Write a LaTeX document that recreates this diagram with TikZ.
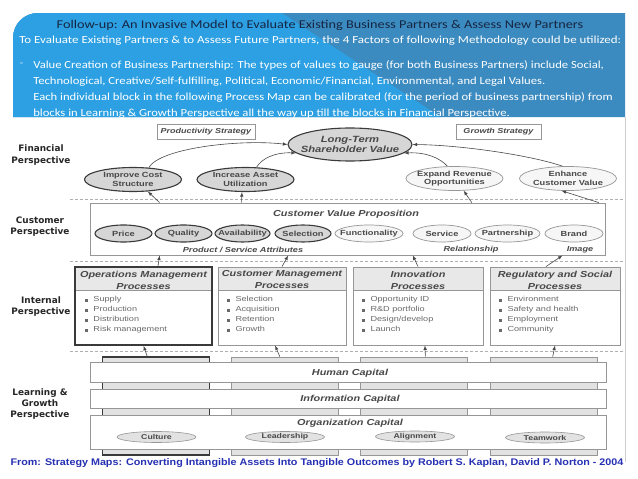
\documentclass[tikz,border=0pt]{standalone}
\usepackage{fontspec}
\setmainfont{Carlito}
\newfontfamily\bannerfont[FakeStretch=1.2]{Carlito}
\newfontfamily\parafont[FakeStretch=1.17]{Carlito}
\newfontfamily\mapfont[FakeStretch=1.25]{Liberation Sans}
\newfontfamily\perfont{DejaVu Sans}
\newfontfamily\srcfont[FakeStretch=1.12]{Liberation Sans}
\usetikzlibrary{shapes.geometric}
\definecolor{bannerlight}{RGB}{44,160,226}
\definecolor{bannerdark}{RGB}{60,139,192}
\definecolor{titleink}{RGB}{22,38,66}
\definecolor{mapink}{RGB}{72,72,72}
\definecolor{itemink}{RGB}{105,105,105}
\definecolor{ovalgray}{RGB}{214,214,214}
\definecolor{ovalpale}{RGB}{246,246,246}
\definecolor{headgray}{RGB}{232,232,232}
\definecolor{stripgray}{RGB}{226,226,226}
\definecolor{edgegray}{RGB}{150,150,150}
\definecolor{sepgray}{RGB}{175,175,175}
\definecolor{srcblue}{RGB}{38,48,178}
\newcommand{\sqbul}{\rule{2.2pt}{2.2pt}\hspace{6pt}}
\begin{document}
\begin{tikzpicture}[x = 1pt, y = -1pt, line width = 0.6pt,
    every node/.style = {inner sep = 0pt},
    strongoval/.style = {ellipse, draw = mapink!80!black, line width = 1.1pt, fill = ovalgray, align = center, text = mapink,
                         font = \mapfont\bfseries\fontsize{7.4}{8.6}\selectfont},
    paleoval/.style = {strongoval, draw = edgegray, line width = 0.7pt, fill = ovalpale},
    finsize/.style = {minimum width = 97pt, minimum height = 24pt, inner xsep = -4pt},
    custsize/.style = {minimum height = 17pt, inner xsep = -14pt},
    capoval/.style = {ellipse, draw = edgegray, line width = 0.6pt, fill = ovalgray!70, text = mapink, minimum width = 79pt,
                      minimum height = 11pt, inner xsep = -12pt, font = \mapfont\bfseries\fontsize{7}{8}\selectfont},
    stratbox/.style = {draw = edgegray, fill = white, line width = 0.7pt, minimum height = 15pt, text = mapink,
                       font = \mapfont\bfseries\itshape\fontsize{7.2}{8}\selectfont},
    headtext/.style = {text = mapink, align = center, font = \mapfont\bfseries\itshape\fontsize{8.7}{12}\selectfont},
    subtext/.style = {text = mapink, font = \mapfont\bfseries\itshape\fontsize{7.3}{8}\selectfont},
    procbox/.style = {draw = edgegray, fill = white, line width = 0.8pt, minimum height = 78pt,
                      path picture = {\fill[headgray] (path picture bounding box.north west) rectangle ([yshift = -23pt]path picture bounding box.north east);
                                      \draw[edgegray, line width = 0.5pt] ([yshift = -23pt]path picture bounding box.north west) -- ([yshift = -23pt]path picture bounding box.north east);}},
    itemlist/.style = {anchor = north west, align = left, text = itemink, font = \mapfont\fontsize{7.3}{10}\selectfont},
    capbar/.style = {draw = edgegray, fill = white, line width = 0.7pt, minimum width = 516pt},
    colstrip/.style = {draw = edgegray, fill = stripgray, line width = 0.7pt, minimum width = 107pt, minimum height = 98pt},
    perlabel/.style = {align = center, text = black!85, font = \perfont\bfseries\fontsize{8.9}{11}\selectfont},
    sepline/.style = {sepgray, dashed, dash pattern = on 3pt off 2pt, line width = 0.7pt},
    arr/.style = {-latex, mapink, line width = 0.6pt}]
  \useasboundingbox (0,0) rectangle (638,479);
  \fill[white] (0,0) rectangle (638,479);
  % banner
  \fill[bannerdark] (13,117) -- (13,38) .. controls (13,24) and (24,13) .. (38,13) -- (625,13) -- (625,117) -- cycle;
  \begin{scope}
    \clip (13,117) -- (13,38) .. controls (13,24) and (24,13) .. (38,13) -- (625,13) -- (625,117) -- cycle;
    \fill[bannerlight] (0,0) -- (262,0) -- (445,120) -- (0,120) -- cycle;
  \end{scope}
  \node[text = titleink, font = \bannerfont\fontsize{11.9}{13}\selectfont] (title) at (320,25)
    {Follow-up: An Invasive Model to Evaluate Existing Business Partners \& Assess New Partners};
  \node[anchor = west, text = white, font = \bannerfont\fontsize{10.8}{13}\selectfont] (lead) at (19,40.5)
    {To Evaluate Existing Partners \& to Assess Future Partners, the 4 Factors of following Methodology could be utilized:};
  \node[text = white!70!bannerlight, font = \parafont\fontsize{10.8}{13}\selectfont] (dash) at (21.5,64.5) {-};
  \node[anchor = north west, align = left, text = white, font = \parafont\fontsize{10.8}{15.8}\selectfont] (para) at (33,60.5)
    {Value Creation of Business Partnership: The types of values to gauge (for both Business Partners) include Social,\\
     Technological, Creative/Self-fulfilling, Political, Economic/Financial, Environmental, and Legal Values.\\
     Each individual block in the following Process Map can be calibrated (for the period of business partnership) from\\
     blocks in Learning \& Growth Perspective all the way up till the blocks in Financial Perspective.};
  \draw[black!20, line width = 0.8pt] (625.5,117) -- (625.5,462);
  % perspectives
  \node[perlabel, font = \perfont\bfseries\fontsize{8.9}{11.5}\selectfont] (finp) at (41,155) {Financial\\Perspective};
  \node[perlabel] (custp) at (40,226.5) {Customer\\Perspective};
  \node[perlabel] (intp) at (41,306.5) {Internal\\Perspective};
  \node[perlabel, font = \perfont\bfseries\fontsize{8.9}{10.7}\selectfont] (lgp) at (40,404) {Learning \&\\Growth\\Perspective};
  \draw[sepline] (70,199) -- (625,199);
  \draw[sepline] (70,261) -- (625,261);
  \draw[sepline] (70,351) -- (625,351);
  % financial
  \node[stratbox, minimum width = 98pt] (prod) at (206,132) {Productivity Strategy};
  \node[stratbox, minimum width = 85pt] (grow) at (498.5,132) {Growth Strategy};
  \node[strongoval, minimum width = 124pt, minimum height = 33pt, inner xsep = -10pt,
        font = \mapfont\bfseries\itshape\fontsize{9}{10.5}\selectfont] (ltsv) at (350,144.5) {Long-Term\\Shareholder Value};
  \node[strongoval, finsize] (cost) at (133,179.5) {Improve Cost\\Structure};
  \node[strongoval, finsize] (asset) at (245.5,179.5) {Increase Asset\\Utilization};
  \node[paleoval, finsize] (rev) at (454.5,178.5) {Expand Revenue\\Opportunities};
  \node[paleoval, finsize] (cval) at (568,178.5) {Enhance\\Customer Value};
  \draw[arr] (cost.37) .. controls (160,148) and (240,139) .. (ltsv.180);
  \draw[arr] (asset.48) .. controls (262,158) and (276,152) .. (ltsv.189);
  \draw[arr] (rev.120) .. controls (440,158) and (426,152) .. (ltsv.-9);
  \draw[arr] (cval.114) .. controls (530,155) and (460,145) .. (ltsv.0);
  % customer
  \node[draw = edgegray, fill = white, line width = 0.8pt, minimum width = 515pt, minimum height = 52pt] (cvp) at (347.5,229) {};
  \node[headtext] (cvpt) at (346,214) {Customer Value Proposition};
  \node[strongoval, custsize, minimum width = 57pt] (price) at (123.5,233.5) {Price};
  \node[strongoval, custsize, minimum width = 57pt] (quality) at (183.5,233.5) {Quality};
  \node[strongoval, custsize, minimum width = 55pt] (avail) at (242.5,233.5) {Availability};
  \node[strongoval, custsize, minimum width = 56pt] (select) at (303,233.5) {Selection};
  \node[paleoval, custsize, minimum width = 68pt] (func) at (369,233.5) {Functionality};
  \node[paleoval, custsize, minimum width = 58pt] (serv) at (442,233.5) {Service};
  \node[paleoval, custsize, minimum width = 65pt] (partn) at (507.5,233.5) {Partnership};
  \node[paleoval, custsize, minimum width = 58pt] (brand) at (574,233.5) {Brand};
  \node[subtext] (attr) at (243,250) {Product / Service Attributes};
  \node[subtext] (relat) at (471,250) {Relationship};
  \node[subtext] (image) at (580,250) {Image};
  \draw[arr] (cvp.172.7) -- (cost.-39);
  \draw[arr] (cvp.166.4) -- (asset.-106);
  \draw[arr] (cvp.12.7) -- (rev.-53);
  \draw[arr] (cvp.6.9) -- (cval.-118);
  % internal
  \node[procbox, draw = mapink!80!black, line width = 1.5pt, minimum width = 137pt] (ops) at (143.5,306) {};
  \node[procbox, minimum width = 128pt] (cmp) at (282,306) {};
  \node[procbox, minimum width = 130pt] (inn) at (418,306) {};
  \node[procbox, minimum width = 130pt] (reg) at (555,306) {};
  \node[headtext] (opst) at (143.5,280) {Operations Management\\Processes};
  \node[headtext] (cmpt) at (282,280) {Customer Management\\Processes};
  \node[headtext] (innt) at (418,280) {Innovation\\Processes};
  \node[headtext] (regt) at (555,280) {Regulatory and Social\\Processes};
  \node[itemlist] (opsl) at (85,296) {\sqbul Supply\\\sqbul Production\\\sqbul Distribution\\\sqbul Risk management};
  \node[itemlist] (cmpl) at (227,296) {\sqbul Selection\\\sqbul Acquisition\\\sqbul Retention\\\sqbul Growth};
  \node[itemlist] (innl) at (362,296) {\sqbul Opportunity ID\\\sqbul R\&D portfolio\\\sqbul Design/develop\\\sqbul Launch};
  \node[itemlist] (regl) at (499,296) {\sqbul Environment\\\sqbul Safety and health\\\sqbul Employment\\\sqbul Community};
  \draw[arr] (ops.70) -- (cvp.-172);
  \draw[arr] (cmp.north) -- (cvp.-156.4);
  \draw[arr] (inn.north) -- (cvp.-22.3);
  \draw[arr] (reg.103) -- (cvp.-7.77);
  % learning and growth
  \node[colstrip, draw = mapink!80!black, line width = 1.4pt] (col1) at (156,406) {};
  \node[colstrip] (col2) at (285,406) {};
  \node[colstrip] (col3) at (414,406) {};
  \node[colstrip] (col4) at (544,406) {};
  \node[capbar, minimum height = 19.5pt] (human) at (348,372.5) {};
  \node[capbar, minimum height = 19pt] (info) at (348,398.5) {};
  \node[capbar, minimum height = 34pt] (org) at (348,432) {};
  \node[headtext] (humant) at (350,373) {Human Capital};
  \node[headtext] (infot) at (350,399) {Information Capital};
  \node[headtext] (orgt) at (350,423) {Organization Capital};
  \node[capoval] (culture) at (156.5,437) {Culture};
  \node[capoval] (lead) at (285,437) {Leadership};
  \node[capoval] (align) at (415,436.5) {Alignment};
  \node[capoval] (team) at (545,437.5) {Teamwork};
  \draw[arr] (col1.100.4) -- (ops.south);
  \draw[arr] (col2.96) -- (cmp.-100);
  \draw[arr] (col3.77) -- (inn.-80);
  \draw[arr] (col4.80) -- (reg.south);
  % source
  \node[text = srcblue, font = \srcfont\bfseries\fontsize{9.6}{11}\selectfont] (source) at (317,463)
    {From: Strategy Maps: Converting Intangible Assets Into Tangible Outcomes by Robert S. Kaplan, David P. Norton - 2004};
\end{tikzpicture}
\end{document}
